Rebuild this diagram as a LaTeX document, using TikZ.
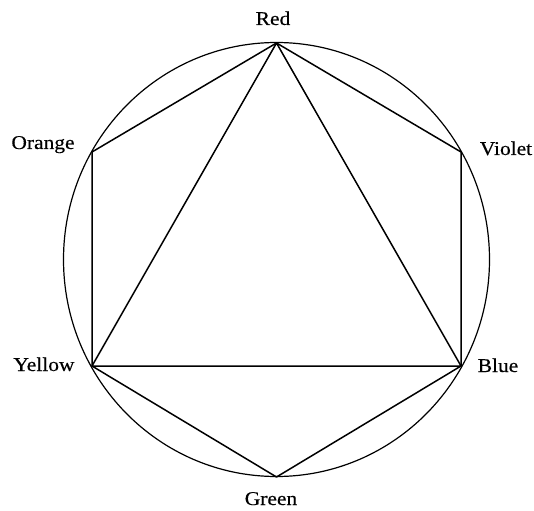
\documentclass[tikz,border=0pt]{standalone}
\usepackage{fontspec}
\setmainfont{Liberation Serif}[FakeStretch=1.1,FakeBold=0.4]
\begin{document}
\begin{tikzpicture}[x=1pt,y=-1pt,
  edge/.style={line width=1.5pt,line join=round},
  lbl/.style={font=\fontsize{19.5}{22}\selectfont,inner sep=0pt,anchor=base}]
\useasboundingbox (0,0) rectangle (534,510);
\coordinate (C) at (276.5,259.5);
\coordinate (R) at (276.5,43);
\coordinate (V) at (461,152);
\coordinate (B) at (461,366);
\coordinate (G) at (276.5,477);
\coordinate (Y) at (92,366);
\coordinate (O) at (92,152);
\draw[line width=1.2pt] (C) ellipse [x radius=213, y radius=217];
\draw[edge] (R) -- (V) -- (B) -- (G) -- (Y) -- (O) -- cycle;
\draw[edge] (R) -- (Y) -- (B) -- cycle;
\node[lbl] (lr) at (273,25) {Red};
\node[lbl] (lo) at (43,149) {Orange};
\node[lbl] (lv) at (506,155) {Violet};
\node[lbl] (ly) at (44,371) {Yellow};
\node[lbl] (lb) at (498,372) {Blue};
\node[lbl] (lg) at (271,505) {Green};
\end{tikzpicture}
\end{document}
